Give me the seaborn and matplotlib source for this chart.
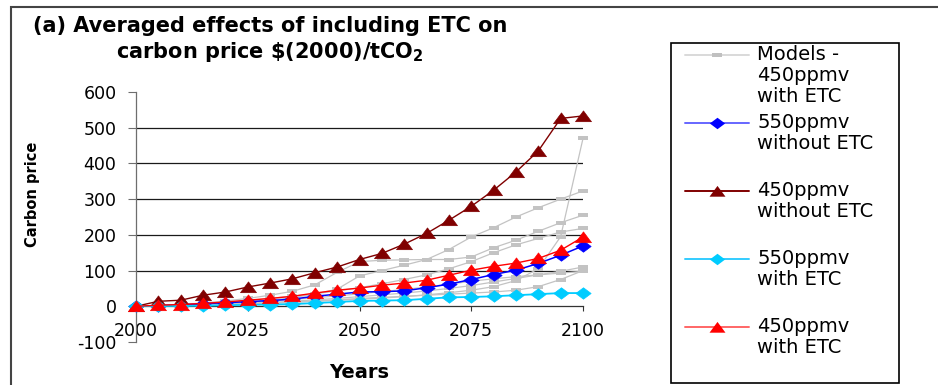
import matplotlib
matplotlib.use("Agg")
import matplotlib.pyplot as plt
from matplotlib.lines import Line2D
from matplotlib.patches import Rectangle
from matplotlib.path import Path
import seaborn as sns

# ---- data: carbon price, $(2000)/tCO2 ----
years = [2000, 2005, 2010, 2015, 2020, 2025, 2030, 2035, 2040, 2045, 2050,
         2055, 2060, 2065, 2070, 2075, 2080, 2085, 2090, 2095, 2100]

ppm550_without_etc = [0, 2, 4, 7, 10, 13, 16, 20, 28, 34, 40,
                      41, 43, 52, 62, 75, 89, 101, 120, 143, 169]
ppm450_without_etc = [0, 14, 17, 31, 40, 54, 65, 77, 94, 110, 131,
                      148, 174, 204, 241, 280, 325, 376, 435, 526, 533]
ppm550_with_etc = [0, 1, 1, 2, 3, 4, 5, 6, 9, 12, 15,
                   16, 17, 21, 25, 26, 28, 31, 34, 37, 37]
ppm450_with_etc = [0, 3, 5, 8, 12, 17, 22, 28, 37, 45, 51,
                   59, 65, 73, 87, 101, 112, 121, 134, 157, 194]

# individual models, 450ppmv with ETC
model_a = [0, 1, 3, 5, 8, 12, 17, 24, 34, 48, 85,
           100, 115, 131, 159, 194, 220, 250, 276, 300, 323]
model_b = [0, 2, 5, 9, 15, 22, 31, 42, 60, 95, 125,
           129, 130, 131, 131, 138, 164, 185, 210, 234, 255]
model_c = [0, 2, 4, 7, 11, 16, 22, 28, 35, 43, 52,
           63, 75, 88, 105, 125, 150, 172, 190, 208, 218]
model_d = [0, 1, 2, 3, 5, 7, 9, 11, 14, 17, 20,
           23, 27, 32, 38, 45, 55, 72, 105, 195, 470]
model_e = [0, 1, 2, 4, 6, 8, 11, 14, 18, 22, 27,
           32, 37, 43, 50, 58, 68, 78, 88, 98, 110]
model_f = [0, 1, 3, 5, 8, 11, 15, 19, 24, 29, 35,
           41, 47, 54, 62, 70, 77, 83, 88, 93, 98]
model_g = [0, 1, 2, 3, 5, 7, 9, 12, 15, 18, 22,
           25, 28, 31, 34, 37, 40, 45, 55, 75, 100]
models = [model_a, model_b, model_c, model_d, model_e, model_f, model_g]

legend_labels = ["Models -\n450ppmv\nwith ETC", "550ppmv\nwithout ETC",
                 "450ppmv\nwithout ETC", "550ppmv\nwith ETC", "450ppmv\nwith ETC"]
title_text = "(a) Averaged effects of including ETC on\ncarbon price \\$(2000)/tCO$_\\mathbf{2}$"

# ---- style ----
sns.set_theme(style="white")
plt.rcParams["font.family"] = ["DejaVu Sans"]
plt.rcParams["text.color"] = "black"
plt.rcParams["axes.labelcolor"] = "black"
plt.rcParams["xtick.color"] = "black"
plt.rcParams["ytick.color"] = "black"
plt.rcParams["axes.unicode_minus"] = False

W, H = 938, 385
fig = plt.figure(figsize=(W / 100, H / 100), dpi=100)
fig.patch.set_facecolor("white")


def fx(px):
    return px / W


def fy(py):
    return 1 - py / H


ax = fig.add_axes([fx(136), fy(342), fx(583) - fx(136), fy(92) - fy(342)])
ax.set_facecolor("white")

# marker shapes
TRI = Path([(-1, -0.65), (1, -0.65), (0, 0.7), (-1, -0.65)],
           [Path.MOVETO, Path.LINETO, Path.LINETO, Path.CLOSEPOLY])
DIA = Path([(-1, 0), (0, 0.75), (1, 0), (0, -0.75), (-1, 0)],
           [Path.MOVETO, Path.LINETO, Path.LINETO, Path.LINETO, Path.CLOSEPOLY])
DASH = Path([(-1, -0.42), (1, -0.42), (1, 0.42), (-1, 0.42), (-1, -0.42)],
            [Path.MOVETO, Path.LINETO, Path.LINETO, Path.LINETO, Path.CLOSEPOLY])

GRAY = "#c3c3c3"
series_styles = [
    (ppm550_without_etc, "#0000ff", DIA, 11, 1.1, 3),
    (ppm450_without_etc, "#800000", TRI, 11.5, 1.0, 4),
    (ppm550_with_etc, "#00ccff", DIA, 11, 1.3, 5),
    (ppm450_with_etc, "#ff0000", TRI, 11.5, 1.0, 6),
]

for vals in models:
    sns.lineplot(x=years, y=vals, ax=ax, color=GRAY, lw=0.9, marker=DASH,
                 markersize=6.5, markeredgewidth=0, markerfacecolor=GRAY,
                 legend=False, zorder=2, clip_on=False)

for vals, col, mk, ms, lw, z in series_styles:
    sns.lineplot(x=years, y=vals, ax=ax, color=col, lw=lw, marker=mk,
                 markersize=ms, markeredgewidth=0.5, markeredgecolor=col,
                 markerfacecolor=col, legend=False, zorder=z, clip_on=False)

# ---- axes ----
ax.set_xlim(2000, 2100)
ax.set_ylim(-100, 600)
yticks = list(range(-100, 601, 100))
ax.set_yticks(yticks)
ax.set_xticks([2000, 2025, 2050, 2075, 2100])
ax.set_xlabel("")
ax.set_ylabel("")

for s in ("top", "right"):
    ax.spines[s].set_visible(False)
ax.spines["bottom"].set_position(("data", 0))
ax.spines["bottom"].set_color("#333333")
ax.spines["left"].set_color("#6e6e6e")
ax.spines["bottom"].set_linewidth(0.9)
ax.spines["left"].set_linewidth(0.9)

ax.tick_params(axis="y", direction="out", length=6, width=0.8, pad=8,
               labelsize=12.5, color="#6e6e6e", labelcolor="black", left=True)
ax.tick_params(axis="x", direction="out", length=3.5, width=0.8, pad=8,
               labelsize=12.5, color="#333333", labelcolor="black", bottom=True)

ax.grid(axis="y", color="#1a1a1a", lw=0.9)
ax.grid(axis="x", visible=False)
for gl, v in zip(ax.get_ygridlines(), yticks):
    if v in (-100, 0, 600):
        gl.set_visible(False)
ax.set_axisbelow(True)

fig.text(fx(33), fy(194), "Carbon price", rotation=90, ha="center", va="center",
         fontsize=10.5, fontweight="bold", color="black")
fig.text(fx(359), fy(372), "Years", ha="center", va="center",
         fontsize=14, fontweight="bold", color="black")

fig.text(fx(270), fy(40), title_text, ha="center", va="center",
         multialignment="center", fontsize=15, fontweight="bold",
         linespacing=1.25, color="black")

# ---- frame around the chart ----
fig.add_artist(Rectangle((fx(11), -0.05), 1.2, fy(7) + 0.05, transform=fig.transFigure,
                         fill=False, ec="#444444", lw=1.5))

# ---- legend ----
fig.add_artist(Rectangle((fx(671), fy(383)), fx(899) - fx(671), fy(43) - fy(383),
                         transform=fig.transFigure, fill=False, ec="black", lw=1.2))

legend_styles = [
    ("#d9d9d9", "#c0c0c0", DASH, 6.5),
    ("#6666ff", "#0000ff", DIA, 11),
    ("#800000", "#800000", TRI, 11.5),
    ("#33ccff", "#00ccff", DIA, 11),
    ("#ff6666", "#ff0000", TRI, 11.5),
]
for i, (label, (lcol, mcol, mk, ms)) in enumerate(zip(legend_labels, legend_styles)):
    yc = 55 + 68 * i
    fig.add_artist(Line2D([fx(685), fx(749)], [fy(yc), fy(yc)], color=lcol, lw=1.4,
                          transform=fig.transFigure))
    fig.add_artist(Line2D([fx(717)], [fy(yc)], marker=mk, markersize=ms, color=mcol,
                          markeredgewidth=0, linestyle="none", transform=fig.transFigure))
    fig.text(fx(757), fy(yc - 10), label, ha="left", va="top", fontsize=14,
             linespacing=1.12, color="black")

fig.savefig("out.png", dpi=100)
